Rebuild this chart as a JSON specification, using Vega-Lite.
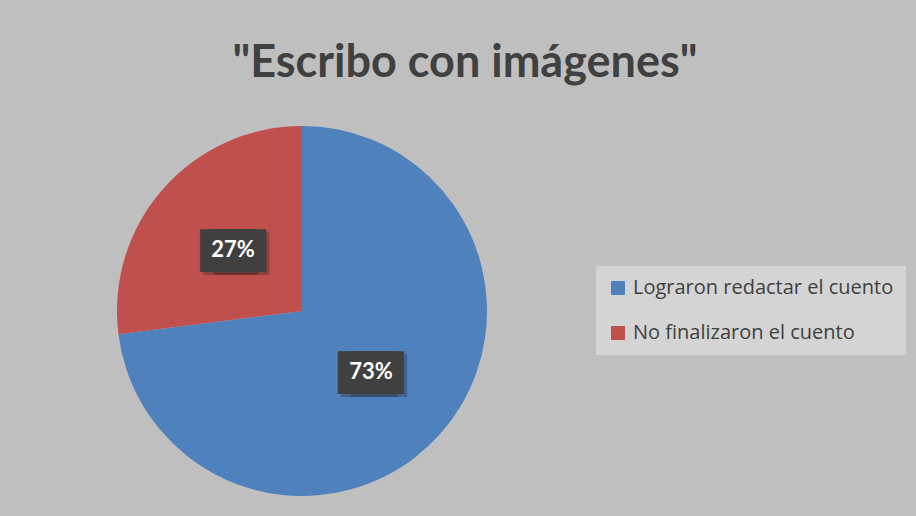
{
  "$schema": "https://vega.github.io/schema/vega-lite/v6.json",
  "width": 370,
  "height": 370,
  "autosize": {"type": "none"},
  "padding": {"left": 117, "top": 126, "right": 429, "bottom": 20},
  "background": "#bfbfbf",
  "title": {
    "text": "\"Escribo con imágenes\"",
    "font": "Lato",
    "fontSize": 45,
    "fontWeight": "bold",
    "color": "#404040",
    "anchor": "middle",
    "dx": 163,
    "offset": 40
  },
  "config": {"view": {"stroke": null}},
  "data": {
    "values": [
      {"category": "Lograron redactar el cuento", "share": 0.73},
      {"category": "No finalizaron el cuento", "share": 0.27}
    ]
  },
  "encoding": {
    "theta": {"field": "share", "type": "quantitative", "stack": true},
    "order": {"field": "share", "type": "quantitative", "sort": "descending"},
    "color": {
      "field": "category",
      "type": "nominal",
      "scale": {
        "domain": ["Lograron redactar el cuento", "No finalizaron el cuento"],
        "range": ["#4f81bd", "#c0504d"]
      },
      "legend": {
        "title": null,
        "orient": "none",
        "legendX": 479,
        "legendY": 140,
        "fillColor": "#d4d4d4",
        "padding": 12,
        "symbolType": "square",
        "symbolSize": 196,
        "symbolStrokeWidth": 0,
        "labelFont": "Open Sans",
        "labelFontSize": 20,
        "labelColor": "#404040",
        "labelLimit": 400,
        "labelOffset": 5,
        "rowPadding": 25
      }
    }
  },
  "layer": [
    {"mark": {"type": "arc"}},
    {
      "mark": {"type": "text", "radius": 92, "text": "██", "font": "DejaVu Sans", "fontSize": 36, "dx": -2, "dy": 5, "opacity": 0.3},
      "encoding": {"color": {"value": "#202020"}}
    },
    {
      "mark": {"type": "text", "radius": 92, "text": "██", "font": "DejaVu Sans", "fontSize": 36, "dx": 8, "dy": 5, "opacity": 0.3},
      "encoding": {"color": {"value": "#202020"}}
    },
    {
      "mark": {"type": "text", "radius": 92, "text": "██", "font": "DejaVu Sans", "fontSize": 36, "dx": -5, "dy": 2},
      "encoding": {"color": {"value": "#404040"}}
    },
    {
      "mark": {"type": "text", "radius": 92, "text": "██", "font": "DejaVu Sans", "fontSize": 36, "dx": 5, "dy": 2},
      "encoding": {"color": {"value": "#404040"}}
    },
    {
      "mark": {"type": "text", "radius": 92, "font": "Lato", "fontSize": 22, "fontWeight": "bold"},
      "encoding": {
        "text": {"field": "share", "type": "quantitative", "format": ".0%"},
        "color": {"value": "#ffffff"}
      }
    }
  ]
}
